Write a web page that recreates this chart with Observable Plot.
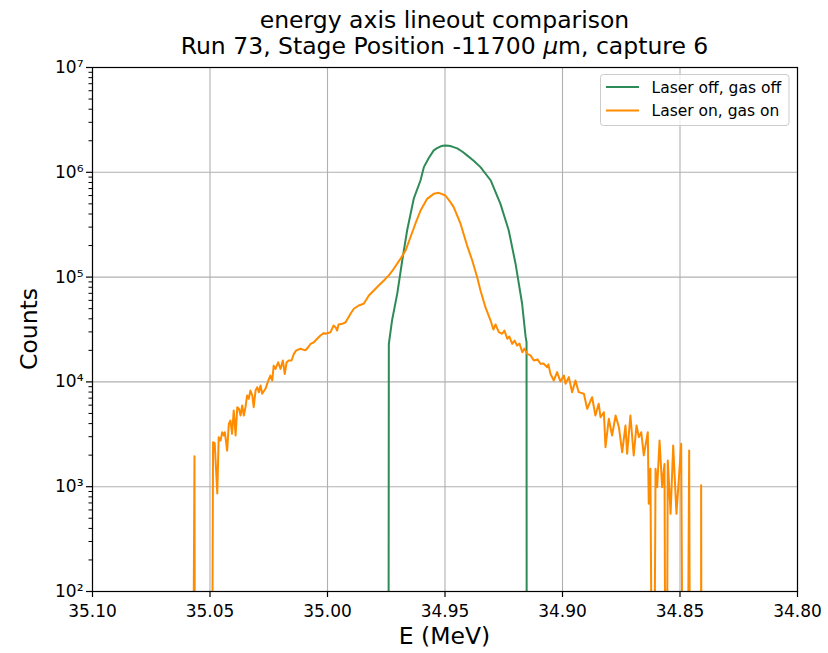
<!DOCTYPE html>
<html>
<head>
<meta charset="utf-8">
<script src="https://cdn.jsdelivr.net/npm/d3@7"></script>
<script src="https://cdn.jsdelivr.net/npm/@observablehq/plot@0.6"></script>
<style>
  html, body { margin: 0; padding: 0; background: #fff; }
  #chart { width: 828px; height: 653px; }
  svg { font-family: "DejaVu Sans", sans-serif; }
</style>
</head>
<body>
<div id="chart"></div>
<script>
// ---------- data ----------
const titleLine1 = "energy axis lineout comparison";
const xLabel = "E (MeV)";
const yLabel = "Counts";
const seriesNames = ["Laser off, gas off", "Laser on, gas on"];
const seriesColors = ["#2e8b57", "#ff8c00"];

const xTicks = [35.10, 35.05, 35.00, 34.95, 34.90, 34.85, 34.80];
const yTicks = [1e2, 1e3, 1e4, 1e5, 1e6, 1e7];
const yTickLabels = ["10²", "10³", "10⁴", "10⁵", "10⁶", "10⁷"];

// Laser off, gas off
const offE = [34.9741, 34.9739, 34.9725, 34.9703, 34.9682, 34.9661, 34.9633, 34.9604, 34.9590, 34.9569,
  34.9548, 34.9534, 34.9520, 34.9509, 34.9498, 34.9484, 34.9470, 34.9448, 34.9427, 34.9406, 34.9378, 34.9349, 34.9306, 34.9264, 34.9229,
  34.9200, 34.9172, 34.9157, 34.9153, 34.9152];
const offCounts = [0, 2.3e4, 3.9e4, 7.0e4, 1.44e5, 2.8e5, 5.6e5, 8.4e5, 1.12e6, 1.37e6,
  1.62e6, 1.70e6, 1.76e6, 1.79e6, 1.80e6, 1.79e6, 1.76e6, 1.69e6, 1.58e6, 1.45e6, 1.29e6, 1.12e6, 8.4e5, 5.0e5, 2.8e5,
  1.35e5, 5.6e4, 2.7e4, 2.4e4, 0];

// Laser on, gas on
const onE = [35.0587, 35.0576, 35.0566, 35.0563, 35.0494, 35.0487, 35.0480, 35.0469, 35.0463, 35.0455,
  35.0448, 35.0441, 35.0437, 35.0427, 35.0420, 35.0413, 35.0406, 35.0399, 35.0391, 35.0384,
  35.0377, 35.0370, 35.0363, 35.0356, 35.0349, 35.0342, 35.0335, 35.0328, 35.0320, 35.0314,
  35.0306, 35.0299, 35.0292, 35.0285, 35.0278, 35.0264, 35.0252, 35.0243, 35.0235, 35.0229,
  35.0221, 35.0210, 35.0200, 35.0190, 35.0182, 35.0174, 35.0165, 35.0153, 35.0143, 35.0133,
  35.0115, 35.0094, 35.0082, 35.0072, 35.0058, 35.0044, 35.0030, 35.0016, 35.0009, 34.9987,
  34.9974, 34.9966, 34.9959, 34.9953, 34.9937, 34.9923, 34.9902, 34.9888, 34.9867, 34.9846,
  34.9824, 34.9803, 34.9782, 34.9760, 34.9739, 34.9718, 34.9689, 34.9668, 34.9647, 34.9626,
  34.9604, 34.9576, 34.9548, 34.9526, 34.9498, 34.9477, 34.9463, 34.9434, 34.9406, 34.9384,
  34.9363, 34.9349, 34.9328, 34.9306, 34.9294, 34.9285, 34.9271, 34.9257, 34.9247, 34.9235,
  34.9226, 34.9214, 34.9204, 34.9193, 34.9183, 34.9171, 34.9162, 34.9150, 34.9136, 34.9122,
  34.9106, 34.9094, 34.9081, 34.9065, 34.9060, 34.9051, 34.9037, 34.9023, 34.9009, 34.8994,
  34.8987, 34.8973, 34.8959, 34.8945, 34.8931, 34.8909, 34.8895, 34.8874, 34.8860, 34.8846,
  34.8838, 34.8824, 34.8817, 34.8803, 34.8789, 34.8774, 34.8760, 34.8746, 34.8732, 34.8725,
  34.8711, 34.8697, 34.8685, 34.8675, 34.8665, 34.8654, 34.8637, 34.8633, 34.8626, 34.8614,
  34.8604, 34.8597, 34.8587, 34.8576, 34.8566, 34.8559, 34.8552, 34.8540, 34.8529, 34.8515,
  34.8495, 34.8484, 34.8472, 34.8461, 34.8455, 34.8411, 34.8410, 34.8408];
const onCounts = [0, 0, 1950, 0, 0, 2660, 2600, 860, 2970, 2760,
  3310, 3080, 3310, 2210, 3980, 4280, 3200, 5330, 3080, 5740,
  5540, 4780, 5960, 4780, 5740, 7420, 6900, 8280, 7420, 5740,
  8280, 8900, 7980, 9250, 7700, 8590, 10300, 11500, 10300, 14300,
  13300, 15400, 13300, 16000, 11900, 15400, 16000, 16000, 18500, 20000,
  20700, 20000, 21400, 23100, 23900, 25800, 27700, 29200, 28800, 29800,
  34500, 33300, 30900, 35300, 35800, 37100, 44700, 49900, 53600, 55600,
  66700, 74500, 83100, 92800, 104000, 120000, 150000, 179000, 240000, 323000,
  432000, 558000, 623000, 637000, 601000, 519000, 465000, 323000, 200000, 144000,
  99800, 74500, 51600, 38500, 31600, 35300, 29800, 28800, 30900, 25800,
  27100, 23100, 24800, 22200, 23200, 19200, 20800, 18500, 17900, 16000,
  16400, 14900, 15000, 13800, 14700, 11900, 10300, 12400, 10100, 11500,
  9590, 11100, 7980, 10300, 7980, 7700, 5540, 7140, 4780, 6180,
  4600, 5140, 2380, 4450, 3080, 4780, 3700, 2130, 3840, 2060,
  4780, 1990, 3840, 2970, 3310, 1990, 3310, 687, 1480, 0,
  1480, 990, 2760, 990, 1650, 0, 1780, 551, 2470, 551,
  2570, 0, 0, 2210, 0, 0, 1030, 0];

// ---------- build tables ----------
// non-positive counts are clipped (as a log axis does) to a value far below the frame
const clipLow = c => (c > 0 ? c : 0.1);
const offData = offE.map((e, i) => ({E: e, c: clipLow(offCounts[i])}));
const onData = onE.map((e, i) => ({E: e, c: clipLow(onCounts[i])}));

const minorY = [];
for (let k = 2; k < 7; k++) for (let m = 2; m <= 9; m++) minorY.push(m * Math.pow(10, k));
const yLabelMap = new Map(yTicks.map((t, i) => [t, yTickLabels[i]]));

const W = 828, H = 653;
const mL = 92, mR = 31, mT = 67, mB = 62;

const chart = Plot.plot({
  width: W,
  height: H,
  marginLeft: mL,
  marginRight: mR,
  marginTop: mT,
  marginBottom: mB,
  style: {fontFamily: "DejaVu Sans, sans-serif", fontSize: "17px", color: "#000", background: "#fff", overflow: "visible"},
  x: {domain: [35.10, 34.80]},
  y: {type: "log", domain: [1e2, 1e7]},
  marks: [
    Plot.gridX(xTicks, {stroke: "#b0b0b0", strokeOpacity: 1, strokeWidth: 1.1}),
    Plot.gridY(yTicks, {stroke: "#b0b0b0", strokeOpacity: 1, strokeWidth: 1.1}),
    Plot.line(offData, {x: "E", y: "c", stroke: seriesColors[0], strokeWidth: 2, clip: true}),
    Plot.line(onData, {x: "E", y: "c", stroke: seriesColors[1], strokeWidth: 2, clip: true}),
    Plot.frame({stroke: "#000", strokeWidth: 1.2}),
    Plot.axisX(xTicks, {tickSize: 6, tickPadding: 7, tickFormat: d3.format(".2f"), label: null, fontSize: 17, strokeWidth: 1.2}),
    Plot.axisY(yTicks, {tickSize: 6, tickPadding: 3, tickFormat: d => yLabelMap.get(d), label: null, fontSize: 17, strokeWidth: 1.2}),
    Plot.axisY(minorY, {tickSize: 3.5, tickFormat: () => "", label: null, strokeWidth: 1})
  ]
});

document.getElementById("chart").appendChild(chart);

// ---------- titles, axis labels, legend ----------
const svg = d3.select(chart);
const cx = mL + (W - mL - mR) / 2;
const ff = "DejaVu Sans, sans-serif";

svg.append("text").attr("x", cx).attr("y", 28).attr("text-anchor", "middle")
  .attr("font-size", 23.5).attr("font-family", ff).attr("fill", "#000").text(titleLine1);

const t2 = svg.append("text").attr("x", cx).attr("y", 54).attr("text-anchor", "middle")
  .attr("font-size", 23.5).attr("font-family", ff).attr("fill", "#000");
t2.append("tspan").text("Run 73, Stage Position -11700 ");
t2.append("tspan").attr("font-style", "italic").text("μ");
t2.append("tspan").text("m, capture 6");

svg.append("text").attr("x", cx).attr("y", 644).attr("text-anchor", "middle")
  .attr("font-size", 23.5).attr("font-family", ff).attr("fill", "#000").text(xLabel);

svg.append("text").attr("transform", `translate(37, ${mT + (H - mT - mB) / 2}) rotate(-90)`)
  .attr("text-anchor", "middle").attr("font-size", 23.5).attr("font-family", ff)
  .attr("fill", "#000").text(yLabel);

const lg = svg.append("g").attr("text-anchor", "start");
lg.append("rect").attr("x", 600.5).attr("y", 74.5).attr("width", 188.5).attr("height", 51)
  .attr("rx", 3).attr("fill", "#fff").attr("fill-opacity", 0.8).attr("stroke", "#cccccc").attr("stroke-width", 1);
seriesNames.forEach((name, i) => {
  const y = 87 + i * 23.5;
  lg.append("line").attr("x1", 606).attr("x2", 639).attr("y1", y).attr("y2", y)
    .attr("stroke", seriesColors[i]).attr("stroke-width", 2);
  lg.append("text").attr("x", 651.5).attr("y", y + 5.5).attr("text-anchor", "start").attr("font-size", 15.5)
    .attr("font-family", ff).attr("fill", "#000").text(name);
});
</script>
</body>
</html>
